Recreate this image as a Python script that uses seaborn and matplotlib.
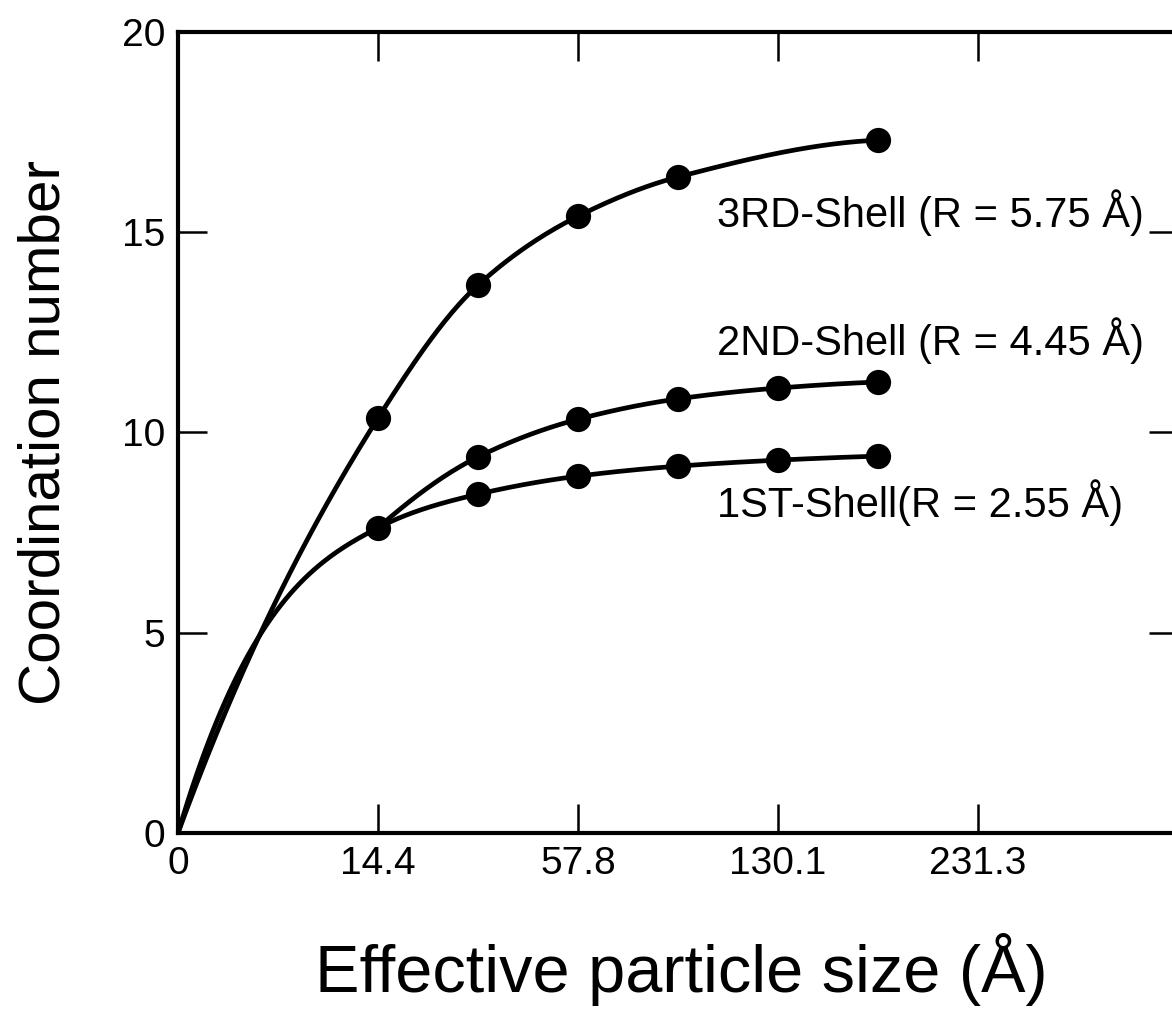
import numpy as np
import pandas as pd
import matplotlib
matplotlib.use("Agg")
import matplotlib.pyplot as plt
import seaborn as sns

# tick positions are evenly spaced (size grows as n^2), so plot on position index
tick_pos = [0, 1, 2, 3, 4]
tick_labels = ["0", "14.4", "57.8", "130.1", "231.3"]

# measured points (x in tick-position units)
x_1st = [0, 1, 1.5, 2, 2.5, 3, 3.5]
y_1st = [0, 7.62, 8.46, 8.91, 9.16, 9.31, 9.41]

x_2nd = [1, 1.5, 2, 2.5, 3, 3.5]
y_2nd = [7.62, 9.39, 10.33, 10.84, 11.11, 11.26]

x_3rd = [0, 1, 1.5, 2, 2.5, 3.5]
y_3rd = [0, 10.36, 13.68, 15.4, 16.38, 17.3]

labels = ["1ST-Shell(R = 2.55 Å)", "2ND-Shell (R = 4.45 Å)", "3RD-Shell (R = 5.75 Å)"]
label_y = [7.89, 11.93, 15.13]
label_x = 2.695


def start_slope(x, y):
    # slope at the origin from a saturating shape through the first two points
    r = y[2] / y[1]
    lo, hi = 1e-4, 0.9999
    for _ in range(60):
        q = 0.5 * (lo + hi)
        f = (1 - q ** x[2]) / (1 - q ** x[1]) - r
        if f > 0:
            hi = q
        else:
            lo = q
    k = -np.log(q)
    a = y[1] / (1 - q ** x[1])
    return a * k


def smooth(x, y, n=300):
    # monotone cubic hermite through the points, only used to draw the line
    x = np.asarray(x, float)
    y = np.asarray(y, float)
    h = np.diff(x)
    dl = np.diff(y) / h
    d = np.zeros_like(y)
    for k in range(1, len(x) - 1):
        if dl[k - 1] * dl[k] > 0:
            w1 = 2 * h[k] + h[k - 1]
            w2 = h[k] + 2 * h[k - 1]
            d[k] = (w1 + w2) / (w1 / dl[k - 1] + w2 / dl[k])
    if x[0] == 0 and y[0] == 0:
        d[0] = start_slope(x, y)
    else:
        d[0] = ((2 * h[0] + h[1]) * dl[0] - h[0] * dl[1]) / (h[0] + h[1])
    d[-1] = ((2 * h[-1] + h[-2]) * dl[-1] - h[-1] * dl[-2]) / (h[-1] + h[-2])
    if d[-1] * dl[-1] < 0:
        d[-1] = 0
    xs = np.linspace(x[0], x[-1], n)
    k = np.clip(np.searchsorted(x, xs) - 1, 0, len(h) - 1)
    t = (xs - x[k]) / h[k]
    h00 = 2 * t**3 - 3 * t**2 + 1
    h10 = t**3 - 2 * t**2 + t
    h01 = -2 * t**3 + 3 * t**2
    h11 = t**3 - t**2
    ys = h00 * y[k] + h10 * h[k] * d[k] + h01 * y[k + 1] + h11 * h[k] * d[k + 1]
    return xs, ys


sns.set_style("ticks")
plt.rcParams["font.family"] = ["Liberation Sans", "DejaVu Sans"]
plt.rcParams["text.color"] = "black"
plt.rcParams["axes.labelcolor"] = "black"
plt.rcParams["xtick.color"] = "black"
plt.rcParams["ytick.color"] = "black"

fig = plt.figure(figsize=(11.72, 10.18), dpi=100)
ax = fig.add_axes([178 / 1172, 1 - 833 / 1018, 1000 / 1172, 801 / 1018])

pts = pd.DataFrame({
    "x": x_1st[1:] + x_2nd[1:] + x_3rd[1:],
    "y": y_1st[1:] + y_2nd[1:] + y_3rd[1:],
})

for xx, yy in [(x_1st, y_1st), (x_2nd, y_2nd), (x_3rd, y_3rd)]:
    xs, ys = smooth(xx, yy)
    curve = pd.DataFrame({"x": xs, "y": ys})
    sns.lineplot(data=curve, x="x", y="y", ax=ax, color="black", lw=3.4,
                 sort=False, estimator=None)

sns.scatterplot(data=pts, x="x", y="y", ax=ax, color="black", s=330,
                edgecolor="black", linewidth=0, zorder=5)

for txt, ty in zip(labels, label_y):
    ax.text(label_x, ty, txt, fontsize=30, va="baseline", ha="left",
            color="black")

ax.set_xlim(0, 5)
ax.set_ylim(0, 20)
ax.set_xticks(tick_pos)
ax.set_xticklabels(tick_labels)
ax.set_yticks([0, 5, 10, 15, 20])
ax.tick_params(axis="both", direction="in", length=21, width=1.8,
               labelsize=28, top=True, right=True, pad=9, color="black",
               labelcolor="black")
for s in ax.spines.values():
    s.set_linewidth(3)
    s.set_color("black")

ax.set_xlabel("Effective particle size (Å)", fontsize=48)
ax.xaxis.set_label_coords(0.503, (833 - 970) / 801)
ax.xaxis.label.set_va("center")
ax.set_ylabel("Coordination number", fontsize=42)
ax.yaxis.set_label_coords((45 - 178) / 1000, 0.5)
ax.yaxis.label.set_va("center")

fig.savefig("out.png", dpi=100)
